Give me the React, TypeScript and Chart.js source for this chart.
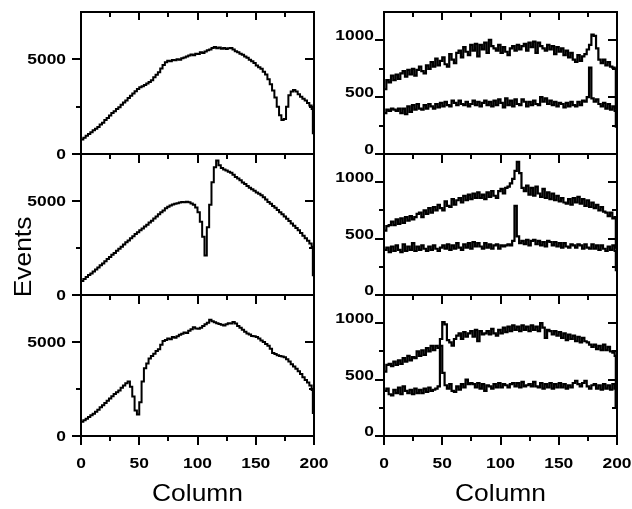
import React, { useEffect, useRef } from "react";
import { Chart, registerables } from "chart.js";
Chart.register(...registerables);

// bin left edges (columns)
const columns = [
  0, 2, 4, 6, 8, 10, 12, 14, 16, 18,
  20, 22, 24, 26, 28, 30, 32, 34, 36, 38,
  40, 42, 44, 46, 48, 50, 52, 54, 56, 58,
  60, 62, 64, 66, 68, 70, 72, 74, 76, 78,
  80, 82, 84, 86, 88, 90, 92, 94, 96, 98,
  100, 102, 104, 106, 108, 110, 112, 114, 116, 118,
  120, 122, 124, 126, 128, 130, 132, 134, 136, 138,
  140, 142, 144, 146, 148, 150, 152, 154, 156, 158,
  160, 162, 164, 166, 168, 170, 172, 174, 176, 178,
  180, 182, 184, 186, 188, 190, 192, 194, 196, 198,
  199,
];
const columnEnd = 200;

// left column: events per column
const topLeft = [
  760, 860, 960, 1060, 1150, 1250, 1340, 1430, 1560, 1650,
  1790, 1900, 2040, 2170, 2260, 2380, 2470, 2600, 2720, 2830,
  2960, 3080, 3190, 3310, 3430, 3520, 3580, 3640, 3720, 3800,
  3900, 4050, 4180, 4320, 4520, 4700, 4850, 4930, 4900, 4960,
  4950, 5000, 4980, 5060, 5100, 5150, 5200, 5260, 5220, 5300,
  5280, 5380, 5340, 5420, 5480, 5520, 5600, 5650, 5580, 5620,
  5560, 5600, 5540, 5580, 5600, 5520, 5430, 5380, 5300, 5240,
  5150, 5080, 4980, 4900, 4800, 4680, 4580, 4500, 4350, 4200,
  3950, 3680, 3350, 2980, 2500, 2050, 1800, 1850, 2500, 3100,
  3300, 3380, 3300, 3150, 3020, 2920, 2820, 2700, 2560, 2380,
  1100,
];
const midLeft = [
  750, 850, 960, 1060, 1150, 1250, 1360, 1460, 1580, 1680,
  1800, 1910, 2020, 2140, 2240, 2350, 2460, 2570, 2680, 2800,
  2900, 3020, 3120, 3240, 3340, 3450, 3540, 3650, 3740, 3860,
  3950, 4070, 4180, 4290, 4400, 4500, 4620, 4700, 4760, 4820,
  4850, 4880, 4920, 4950, 4930, 4960, 4940, 4870, 4800, 4650,
  4400, 3900, 3100, 2100, 3600, 4800, 6000, 6800, 7150, 6900,
  6750, 6680, 6620, 6560, 6500, 6400, 6280, 6200, 6100, 5980,
  5900, 5800, 5700, 5620, 5540, 5450, 5380, 5300, 5200, 5080,
  4950, 4860, 4740, 4640, 4520, 4400, 4300, 4180, 4060, 3940,
  3800, 3680, 3560, 3440, 3300, 3150, 3020, 2880, 2740, 2560,
  1050,
];
const botLeft = [
  760, 840, 920, 1010, 1100, 1180, 1290, 1400, 1530, 1640,
  1760, 1880, 1990, 2120, 2240, 2330, 2420, 2560, 2680, 2800,
  2900, 2620, 2100, 1350, 1150, 1800, 2900, 3600, 3850, 4120,
  4250, 4380, 4520, 4620, 4850, 5050, 5100, 5180, 5150, 5260,
  5220, 5300, 5380, 5440, 5500, 5480, 5600, 5680, 5780, 5720,
  5700, 5760, 5850, 5950, 6020, 6180, 6100, 6050, 6000, 5960,
  5920, 5880, 5940, 6000, 5980, 6060, 5980, 5850, 5760, 5650,
  5540, 5450, 5400, 5320, 5300, 5260, 5180, 5080, 5000, 4900,
  4800, 4640, 4420, 4360, 4300, 4260, 4230, 4190, 4080, 3960,
  3820, 3700, 3580, 3440, 3300, 3120, 2980, 2840, 2680, 2450,
  1220,
];

// right column: two series per panel
const topRightUpper = [
  570, 650, 630, 690, 650, 700, 660, 710, 730, 680,
  740, 700, 750, 690, 740, 770, 730, 710, 780, 750,
  810, 770, 840, 780, 820, 850, 790, 770, 880, 830,
  800, 890, 910, 850, 940, 900, 870, 960, 910, 970,
  860, 960, 920, 980, 890, 1005, 950, 930, 910, 960,
  890, 940, 900, 870, 930, 950, 910, 960, 920, 950,
  970, 910, 980, 940, 990, 890, 980, 950, 930, 910,
  960, 920, 950, 880, 940, 900, 930, 870, 910, 850,
  890, 830, 810, 870, 820, 860, 880, 920, 960, 1050,
  1040, 930, 830, 800, 830, 780, 810, 770, 760, 750,
  400,
];
const topRightLower = [
  360, 390, 380, 400, 390, 380, 400, 360, 400, 350,
  420, 370, 430, 390, 440, 400, 390, 430, 400, 440,
  420, 400, 440, 410, 450, 420, 460, 430, 420, 470,
  450, 430, 470, 440, 430, 460, 420, 440, 470, 430,
  460, 420, 450, 470, 430, 460, 420, 470, 430, 480,
  450, 410, 490, 430, 470, 420, 480, 440, 430, 480,
  460, 420, 460, 430, 470, 440, 430, 500, 460, 490,
  440, 470, 430, 460, 420, 450, 440, 410, 450, 420,
  460, 430, 420, 460, 430, 470, 460, 500, 760, 490,
  460, 480, 440, 420, 450, 400, 440, 390, 420, 380,
  240,
];
const midRightUpper = [
  570, 610, 620, 650, 620, 670, 630, 680, 640, 690,
  660, 700, 670, 690, 720, 730, 690, 750, 720, 770,
  730, 780, 750, 800, 770, 750, 830, 790, 780, 850,
  800, 840, 860, 820, 880, 840, 890, 850, 900, 860,
  910, 860, 890, 850, 910, 870, 920, 880, 860, 920,
  940, 900, 950, 960, 990, 1030, 1100, 1180, 1080, 950,
  920, 970, 890, 950, 880, 960, 900, 870, 940, 860,
  910, 850, 900, 840, 880, 830, 860, 820, 810, 850,
  800, 860, 820, 870, 810, 850, 790, 840, 780, 820,
  770, 800, 750, 780, 740, 730, 700, 730, 680, 690,
  420,
];
const midRightLower = [
  400, 420, 380, 430, 390, 440, 400, 380, 450, 390,
  430, 400, 460, 390, 430, 400, 440, 410, 390, 430,
  400, 440, 410, 390, 420, 440, 410, 450, 400, 440,
  410, 460, 420, 400, 450, 420, 460, 410, 470, 430,
  460, 430, 410, 460, 420, 450, 410, 440, 450, 410,
  440, 430, 440, 450, 440, 480, 790, 520, 460, 480,
  450, 490, 440, 480, 490, 450, 480, 440, 470, 430,
  480, 470, 440, 470, 430, 460, 420, 460, 430, 420,
  450, 440, 420, 450, 440, 410, 450, 420, 410, 450,
  410, 440, 400, 440, 410, 390, 430, 400, 440, 390,
  220,
];
const botRightUpper = [
  570, 630, 640, 620, 660, 630, 670, 640, 690, 660,
  710, 670, 700, 690, 750, 710, 760, 720, 780, 750,
  800, 760, 800, 780, 860, 1010, 990, 850, 830, 800,
  860, 890, 910, 860, 920, 880, 910, 930, 880, 940,
  840, 930, 900, 910, 930, 900, 950, 910, 890, 940,
  910, 960, 920, 970, 930, 980, 940, 970, 930, 980,
  940, 970, 930, 980, 940, 970, 930, 1000, 960, 870,
  940, 930, 900, 930, 890, 920, 870, 910, 850, 900,
  860, 890, 840, 880, 830, 870, 840, 830, 810, 790,
  810, 770, 800, 760, 810, 760, 790, 750, 740, 710,
  250,
];
const botRightLower = [
  400, 420, 370, 360, 410, 380, 430, 370, 440, 400,
  380, 410, 370, 420, 380, 410, 380, 420, 390, 430,
  400, 410, 420, 440, 800, 560, 450, 420, 460, 400,
  390, 440, 410, 460, 430, 500, 460, 470, 460, 430,
  470, 420, 460, 400, 450, 440, 420, 460, 430, 470,
  430, 460, 450, 430, 460, 470, 440, 470, 430, 480,
  440, 450, 460, 440, 480, 440, 430, 470, 420, 460,
  430, 470, 420, 460, 430, 470, 430, 460, 420, 450,
  430, 470, 490, 460, 440, 470, 490, 440, 420, 450,
  460, 420, 450, 410, 460, 420, 450, 410, 460, 420,
  250,
];

// ticks
const xMajorTicks = [0, 50, 100, 150, 200];
const xMinorTicks = [25, 75, 125, 175];
const xTickLabels = ["0", "50", "100", "150", "200"];
const leftYMajor = [0, 5000];
const leftYMinor = [2500];
const leftYLabels = ["0", "5000"];
const rightYMajor = [0, 500, 1000];
const rightYMinor = [250, 750];
const rightYLabels = ["0", "500", "1000"];
const xTitle = "Column";
const yTitle = "Events";

const W = 632;
const H = 509;
const FONT = '"Liberation Sans", Arial, Helvetica, sans-serif';

type Panel = {
  x0: number; x1: number; y0: number; y1: number;
  yMax: number; series: number[][]; side: "left" | "right";
  bottom: boolean; events?: boolean; lw: number;
};

const colL = [81, 314];
const colR = [384, 617];
const rows = [[12, 154], [154, 295], [295, 436]];

const panels: Panel[] = [
  { x0: colL[0], x1: colL[1], y0: rows[0][0], y1: rows[0][1], yMax: 7500, series: [topLeft], side: "left", bottom: false, lw: 2 },
  { x0: colL[0], x1: colL[1], y0: rows[1][0], y1: rows[1][1], yMax: 7500, series: [midLeft], side: "left", bottom: false, events: true, lw: 2 },
  { x0: colL[0], x1: colL[1], y0: rows[2][0], y1: rows[2][1], yMax: 7500, series: [botLeft], side: "left", bottom: true, lw: 2 },
  { x0: colR[0], x1: colR[1], y0: rows[0][0], y1: rows[0][1], yMax: 1250, series: [topRightUpper, topRightLower], side: "right", bottom: false, lw: 2.2 },
  { x0: colR[0], x1: colR[1], y0: rows[1][0], y1: rows[1][1], yMax: 1250, series: [midRightUpper, midRightLower], side: "right", bottom: false, lw: 2.2 },
  { x0: colR[0], x1: colR[1], y0: rows[2][0], y1: rows[2][1], yMax: 1250, series: [botRightUpper, botRightLower], side: "right", bottom: true, lw: 2.2 },
];

function stretchedText(ctx: CanvasRenderingContext2D, text: string, x: number, y: number, align: CanvasTextAlign, sx: number) {
  ctx.save();
  ctx.translate(x, y);
  ctx.scale(sx, 1);
  ctx.textAlign = align;
  ctx.fillText(text, 0, 0);
  ctx.restore();
}

const framePlugin = {
  id: "frame",
  afterDatasetsDraw(chart: any) {
    const p: Panel = chart.options.plugins.frame.panel;
    const { ctx, chartArea: a } = chart;
    const x = chart.scales.x;
    const y = chart.scales.y;
    ctx.save();
    ctx.strokeStyle = "#000";
    ctx.fillStyle = "#000";
    ctx.lineWidth = 2;
    ctx.lineCap = "butt";
    ctx.strokeRect(a.left, a.top, a.right - a.left, a.bottom - a.top);
    ctx.beginPath();
    const yMaj = p.side === "left" ? leftYMajor : rightYMajor;
    const yMin = p.side === "left" ? leftYMinor : rightYMinor;
    for (const v of xMajorTicks) {
      const px = Math.round(x.getPixelForValue(v));
      if (v !== 0 && v !== 200) {
        ctx.moveTo(px, a.top);
        ctx.lineTo(px, a.top + 8);
      }
      ctx.moveTo(px, a.bottom);
      ctx.lineTo(px, a.bottom + 9);
    }
    for (const v of xMinorTicks) {
      const px = Math.round(x.getPixelForValue(v));
      ctx.moveTo(px, a.top);
      ctx.lineTo(px, a.top + 5);
      ctx.moveTo(px, a.bottom);
      ctx.lineTo(px, a.bottom + 5);
    }
    for (const v of yMaj) {
      const py = Math.round(y.getPixelForValue(v));
      ctx.moveTo(a.left - 9, py);
      ctx.lineTo(a.left, py);
      if (v !== 0) {
        ctx.moveTo(a.right, py);
        ctx.lineTo(a.right - 9, py);
      }
    }
    for (const v of yMin) {
      const py = Math.round(y.getPixelForValue(v));
      ctx.moveTo(a.left - 5, py);
      ctx.lineTo(a.left, py);
      ctx.moveTo(a.right, py);
      ctx.lineTo(a.right - 5, py);
    }
    ctx.stroke();

    // y tick labels
    ctx.font = `bold 15px ${FONT}`;
    const labels = p.side === "left" ? leftYLabels : rightYLabels;
    yMaj.forEach((v, i) => {
      const py = y.getPixelForValue(v);
      if (p.side === "left") {
        ctx.textBaseline = "middle";
        stretchedText(ctx, labels[i], a.left - 15, py + 1, "right", 1.16);
      } else {
        ctx.textBaseline = "alphabetic";
        stretchedText(ctx, labels[i], a.left - 10, py, "right", 1.16);
      }
    });

    if (p.bottom) {
      ctx.textBaseline = "alphabetic";
      xMajorTicks.forEach((v, i) => {
        stretchedText(ctx, xTickLabels[i], x.getPixelForValue(v), a.bottom + 32, "center", 1.16);
      });
      ctx.font = `24px ${FONT}`;
      stretchedText(ctx, xTitle, (a.left + a.right) / 2, 501, "center", 1.1);
    }
    if (p.events) {
      ctx.font = `24px ${FONT}`;
      ctx.translate(31, 257);
      ctx.rotate(-Math.PI / 2);
      ctx.textBaseline = "alphabetic";
      stretchedText(ctx, yTitle, 0, 0, "center", 1.1);
    }
    ctx.restore();
  },
};

function PanelChart({ panel }: { panel: Panel }) {
  const ref = useRef<HTMLCanvasElement | null>(null);
  useEffect(() => {
    if (!ref.current) return;
    const xs = columns.concat([columnEnd]);
    const chart = new Chart(ref.current, {
      type: "line",
      data: {
        datasets: panel.series.map((s) => ({
          data: xs.map((c, i) => ({ x: c, y: i < s.length ? s[i] : s[s.length - 1] })),
          borderColor: "#000",
          borderWidth: panel.lw,
          pointRadius: 0,
          stepped: "before" as const,
          fill: false,
        })),
      },
      options: {
        animation: false,
        responsive: false,
        events: [],
        layout: { padding: { left: panel.x0, right: W - panel.x1, top: panel.y0, bottom: H - panel.y1 } },
        scales: {
          x: { type: "linear", min: 0, max: 200, display: false },
          y: { type: "linear", min: 0, max: panel.yMax, display: false },
        },
        plugins: {
          legend: { display: false },
          tooltip: { enabled: false },
          frame: { panel },
        } as any,
      },
      plugins: [framePlugin],
    });
    return () => chart.destroy();
  }, [panel]);
  return (
    <canvas
      ref={ref}
      width={W}
      height={H}
      style={{ position: "absolute", left: 0, top: 0, width: W, height: H }}
    />
  );
}

export default function App() {
  return (
    <div style={{ position: "fixed", left: 0, top: 0, width: W, height: H, background: "#fff" }}>
      {panels.map((p, i) => (
        <PanelChart key={i} panel={p} />
      ))}
    </div>
  );
}
